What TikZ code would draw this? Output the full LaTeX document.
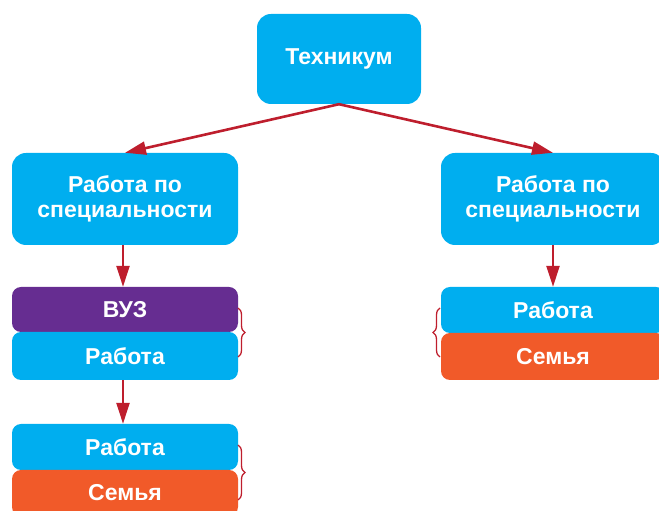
\documentclass[tikz,border=0pt]{standalone}
\usepackage{fontspec}
\setmainfont{Liberation Sans}
\usetikzlibrary{arrows.meta,decorations.pathreplacing}
\definecolor{cy}{HTML}{00AEEF}
\definecolor{pu}{HTML}{662D91}
\definecolor{og}{HTML}{F15A29}
\definecolor{rd}{HTML}{BE1E2D}
\begin{document}
\begin{tikzpicture}[x=1pt,y=1pt,
  box/.style={fill=cy, rounded corners=14pt, text=white, font=\bfseries\fontsize{23}{25}\selectfont, align=center, inner sep=0pt},
  small/.style={box, rounded corners=9pt},
  arr/.style={draw=rd, line width=2.6pt, -{Triangle[length=21pt,width=13pt]}},
  br/.style={draw=rd, line width=1.3pt, decorate, decoration={brace, amplitude=7pt}}]
\useasboundingbox (0,0) rectangle (659,511);
\clip (0,0) rectangle (659,511);
\node[box, minimum width=164pt, minimum height=90pt] (tech) at (339,452) {Техникум};
\node[box, minimum width=226pt, minimum height=92pt] (lmain) at (125,312) {Работа по\\специальности};
\node[box, minimum width=224pt, minimum height=92pt] (rmain) at (553,312) {Работа по\\специальности};
\node[small, fill=pu, minimum width=226pt, minimum height=45pt] (vuz) at (125,201.5) {ВУЗ};
\node[small, minimum width=226pt, minimum height=48pt] (lrab1) at (125,155) {Работа};
\node[small, minimum width=226pt, minimum height=46pt] (lrab2) at (125,64) {Работа};
\node[small, fill=og, minimum width=226pt, minimum height=46pt] (lsem) at (125,18) {Семья};
\node[small, minimum width=224pt, minimum height=46pt] (rrab) at (553,201) {Работа};
\node[small, fill=og, minimum width=224pt, minimum height=47pt] (rsem) at (553,154.5) {Семья};
\draw[arr] (tech.south) -- (lmain.north);
\draw[arr] (tech.south) -- (rmain.north);
\draw[arr] ([xshift=-2pt]lmain.south) -- ([xshift=-2pt]vuz.north);
\draw[arr] ([xshift=-2pt]lrab1.south) -- ([xshift=-2pt]lrab2.north);
\draw[arr] (rmain.south) -- (rrab.north);
\coordinate (b1a) at (238,203); \coordinate (b1b) at (238,154);
\coordinate (b2a) at (238,66); \coordinate (b2b) at (238,11);
\coordinate (b3a) at (440,154); \coordinate (b3b) at (440,203);
\draw[br] (b1a) -- (b1b);
\draw[br] (b2a) -- (b2b);
\draw[br] (b3a) -- (b3b);
\end{tikzpicture}
\end{document}
